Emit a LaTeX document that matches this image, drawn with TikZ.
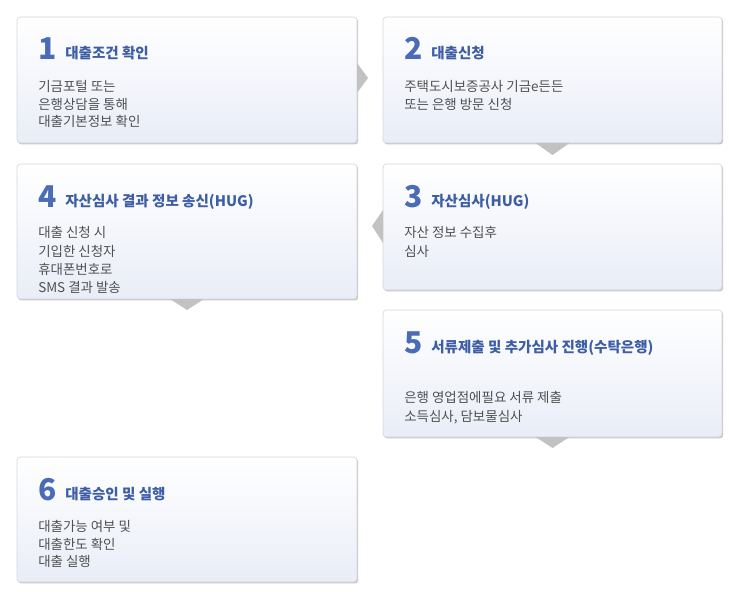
\documentclass[tikz,border=0pt]{standalone}
\usepackage{fontspec}
\newfontfamily\kr{Noto Sans CJK KR}
\usetikzlibrary{shadows,calc}
\definecolor{numblue}{HTML}{4A6BB5}
\definecolor{ttlblue}{HTML}{3D5DA6}
\definecolor{bodygray}{HTML}{505050}
\definecolor{boxline}{HTML}{D3D6DC}
\definecolor{boxbot}{HTML}{E9EDF7}
\definecolor{trigray}{HTML}{C2C2C2}
\tikzset{
  box/.style={rectangle, rounded corners=2.5pt, draw=boxline, line width=0.5pt,
    top color=white, bottom color=boxbot, minimum width=255pt, inner sep=0pt,
    outer sep=0pt, anchor=north west,
    drop shadow={shadow xshift=0.9pt, shadow yshift=-1.1pt, fill=black, opacity=0.22}},
  num/.style={anchor=base west, inner sep=0pt, font=\kr\bfseries\fontsize{22.5}{22}\selectfont, text=numblue},
  ttl/.style={anchor=base west, inner sep=0pt, font=\kr\bfseries\fontsize{10.9}{12}\selectfont, text=ttlblue},
  body/.style={anchor=base west, inner sep=0pt, font=\kr\fontsize{10.1}{11}\selectfont, text=bodygray},
  tri/.style={fill=trigray, draw=none}
}
\begin{document}
\begin{tikzpicture}[x=0.75pt,y=-0.75pt]
\useasboundingbox (0,0) rectangle (729,592);
% boxes
\node[box, minimum height=94.5pt] (b1) at (17,17) {};
\node[box, minimum height=94.5pt, minimum width=254.25pt] (b2) at (383,17) {};
\node[box, minimum height=101.25pt] (b4) at (17,164) {};
\node[box, minimum height=94.5pt, minimum width=254.25pt] (b3) at (383,164) {};
\node[box, minimum height=95.25pt, minimum width=254.25pt] (b5) at (383,310) {};
\node[box, minimum height=93.75pt] (b6) at (17,457) {};
% triangles
\fill[tri] ($(b1.east)+(0,-17)$) -- ($(b1.east)+(11,-2)$) -- ($(b1.east)+(0,13)$) -- cycle;
\fill[tri] ($(b2.south)+(-17,0)$) -- ($(b2.south)+(0,12)$) -- ($(b2.south)+(17,0)$) -- cycle;
\fill[tri] ($(b4.south)+(-17,0)$) -- ($(b4.south)+(0,11)$) -- ($(b4.south)+(17,0)$) -- cycle;
\fill[tri] ($(b3.west)+(0,-17)$) -- ($(b3.west)+(-11,-1)$) -- ($(b3.west)+(0,16)$) -- cycle;
\fill[tri] ($(b5.south)+(-17,0)$) -- ($(b5.south)+(0,11)$) -- ($(b5.south)+(17,0)$) -- cycle;
% box 1
\node[num] (n1) at ($(b1.north west)+(21,43)$) {1};
\node[ttl] (t1) at ($(b1.north west)+(48,42)$) {대출조건 확인};
\node[body] (l11) at ($(b1.north west)+(21,75)$) {기금포털 또는};
\node[body] (l12) at ($(b1.north west)+(21,92.5)$) {은행상담을 통해};
\node[body] (l13) at ($(b1.north west)+(21,110)$) {대출기본정보 확인};
% box 2
\node[num] (n2) at ($(b2.north west)+(21,43)$) {2};
\node[ttl] (t2) at ($(b2.north west)+(48,42)$) {대출신청};
\node[body] (l21) at ($(b2.north west)+(21,75)$) {주택도시보증공사 기금e든든};
\node[body] (l22) at ($(b2.north west)+(21,92.5)$) {또는 은행 방문 신청};
% box 3
\node[num] (n3) at ($(b3.north west)+(21,43)$) {3};
\node[ttl] (t3) at ($(b3.north west)+(48,42)$) {자산심사(HUG)};
\node[body] (l31) at ($(b3.north west)+(21,73.5)$) {자산 정보 수집후};
\node[body] (l32) at ($(b3.north west)+(21,92)$) {심사};
% box 4
\node[num] (n4) at ($(b4.north west)+(21,43)$) {4};
\node[ttl] (t4) at ($(b4.north west)+(48,42)$) {자산심사 결과 정보 송신(HUG)};
\node[body] (l41) at ($(b4.north west)+(21,73.5)$) {대출 신청 시};
\node[body] (l42) at ($(b4.north west)+(21,92)$) {기입한 신청자};
\node[body] (l43) at ($(b4.north west)+(21,110.5)$) {휴대폰번호로};
\node[body] (l44) at ($(b4.north west)+(21,128.5)$) {SMS 결과 발송};
% box 5
\node[num] (n5) at ($(b5.north west)+(21,43)$) {5};
\node[ttl] (t5) at ($(b5.north west)+(48,42)$) {서류제출 및 추가심사 진행(수탁은행)};
\node[body] (l51) at ($(b5.north west)+(21,92.5)$) {은행 영업점에필요 서류 제출};
\node[body] (l52) at ($(b5.north west)+(21,111)$) {소득심사, 담보물심사};
% box 6
\node[num] (n6) at ($(b6.north west)+(21,43)$) {6};
\node[ttl] (t6) at ($(b6.north west)+(48,42)$) {대출승인 및 실행};
\node[body] (l61) at ($(b6.north west)+(21,74.5)$) {대출가능 여부 및};
\node[body] (l62) at ($(b6.north west)+(21,92)$) {대출한도 확인};
\node[body] (l63) at ($(b6.north west)+(21,109.5)$) {대출 실행};
\end{tikzpicture}
\end{document}
